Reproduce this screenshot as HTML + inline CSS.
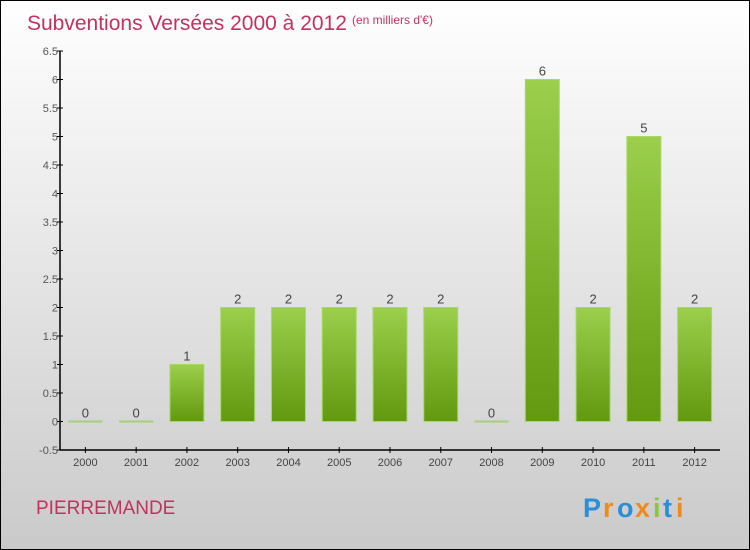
<!DOCTYPE html>
<html><head><meta charset="utf-8"><style>
body{margin:0}
svg{display:block;font-family:"Liberation Sans",sans-serif}
</style></head><body>
<svg width="750" height="550" xmlns="http://www.w3.org/2000/svg">
<defs>
<linearGradient id="bg" x1="0" y1="0" x2="0" y2="1"><stop offset="0" stop-color="#ffffff"/><stop offset="1" stop-color="#cacaca"/></linearGradient>
<linearGradient id="bar" x1="0" y1="0" x2="0" y2="1"><stop offset="0" stop-color="#9bcf4c"/><stop offset="1" stop-color="#62990f"/></linearGradient>
</defs>
<rect x="0.5" y="0.5" width="749" height="549" fill="url(#bg)" stroke="#000"/>
<text x="27" y="30" font-size="21" fill="#c2325f">Subventions Versées 2000 à 2012</text>
<text x="352" y="24" font-size="12" fill="#c2325f">(en milliers d'€)</text>
<text x="36" y="514" font-size="19" fill="#c2325f">PIERREMANDE</text>
<g font-size="27" font-weight="bold">
<text x="583" y="517" fill="#2a8fd8">P</text><text x="603" y="517" fill="#f08a1a">r</text><text x="617" y="517" fill="#2a8fd8">o</text><text x="635" y="517" fill="#f08a1a">x</text><text x="653" y="517" fill="#8cc43c">i</text><text x="663" y="517" fill="#2a8fd8">t</text><text x="676" y="517" fill="#f08a1a">i</text>
</g>
<g id="axes"></g>
<g id="bars"></g>
</svg>
<script>
const years=["2000","2001","2002","2003","2004","2005","2006","2007","2008","2009","2010","2011","2012"];
const values=[0,0,1,2,2,2,2,2,0,6,2,5,2];
const yTicks=[-0.5,0,0.5,1,1.5,2,2.5,3,3.5,4,4.5,5,5.5,6,6.5];
const NS="http://www.w3.org/2000/svg";
const x0=60,x1=720,yTop=51,yBot=450,vMin=-0.5,vMax=6.5;
const y=v=>yBot-(v-vMin)/(vMax-vMin)*(yBot-yTop);
const band=(x1-x0)/years.length;
const xc=i=>x0+band*(i+0.5);
function mk(t,a,p){const e=document.createElementNS(NS,t);for(const k in a)e.setAttribute(k,a[k]);p.appendChild(e);return e;}
const ax=document.getElementById('axes'),bg=document.getElementById('bars');
let l=mk('line',{x1:x0,y1:yTop,x2:x0,y2:yBot,stroke:'#000','stroke-width':1.5},ax);


l=mk('line',{x1:x0,y1:yBot,x2:x1,y2:yBot,stroke:'#000','stroke-width':1.5},ax);


yTicks.forEach(v=>{
 const t=mk('line',{x1:x0-3,y1:y(v),x2:x0+3,y2:y(v),stroke:'#000'},ax);
 
 
 const tx=mk('text',{x:x0-2,y:y(v)+4,'font-size':11,fill:'#555','text-anchor':'end'},ax);
 tx.textContent=String(v);
 
 
});
years.forEach((yr,i)=>{
 const t=mk('line',{x1:xc(i),y1:yBot-3,x2:xc(i),y2:yBot+3,stroke:'#000'},ax);
 
 
 const tx=mk('text',{x:xc(i),y:yBot+16,'font-size':11,fill:'#444','text-anchor':'middle'},ax);
 tx.textContent=yr;
 
 
 const v=values[i],w=34;
 let r;
 if(v===0){r=mk('rect',{x:xc(i)-w/2,y:y(0)-1,width:w,height:2,fill:'#a5cf78'},bg);}
 else{r=mk('rect',{x:xc(i)-w/2,y:y(v),width:w,height:y(0)-y(v),fill:'url(#bar)',stroke:'#a8d86a','stroke-width':1},bg);}
 
 
 const lb=mk('text',{x:xc(i),y:y(v)-4,'font-size':13,fill:'#444','text-anchor':'middle'},bg);
 lb.textContent=String(v);
 
 
});
</script>
</body></html>
